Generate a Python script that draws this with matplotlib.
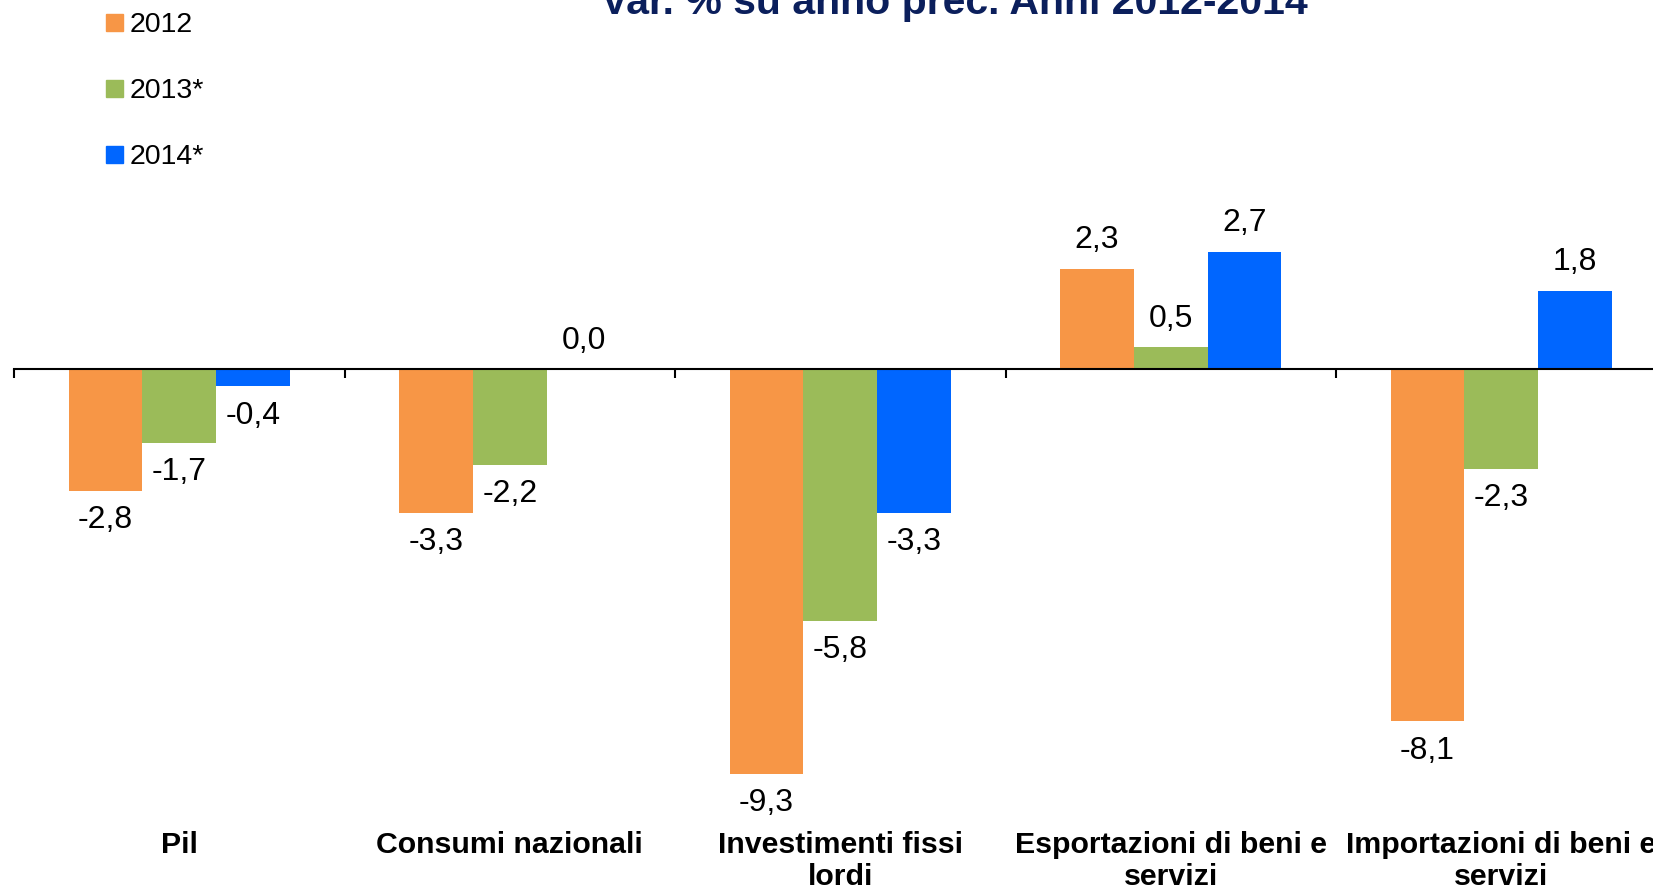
import matplotlib
matplotlib.use("Agg")
import matplotlib.pyplot as plt
from matplotlib.patches import Rectangle

plt.rcParams['font.family'] = ['Liberation Sans', 'DejaVu Sans']

categories = ["Pil", "Consumi nazionali", "Investimenti fissi\nlordi",
              "Esportazioni di beni e\nservizi", "Importazioni di beni e\nservizi"]
series_names = ["2012", "2013*", "2014*"]
v2012 = [-2.8, -3.3, -9.3, 2.3, -8.1]
v2013 = [-1.7, -2.2, -5.8, 0.5, -2.3]
v2014 = [-0.4, 0.0, -3.3, 2.7, 1.8]
colors = ["#F79646", "#9BBB59", "#0066FF"]
title = "Var. % su anno prec. Anni 2012-2014"

W, H = 1653, 888
fig = plt.figure(figsize=(W / 100, H / 100), dpi=100)
fig.patch.set_facecolor("white")

px_per_unit = 43.5
zero_y = 369.0
ymin, ymax = -10.5, 4.0
ax_top = zero_y - ymax * px_per_unit
ax_bot = zero_y - ymin * px_per_unit
left_px = 14.0
cat_px = 330.5
ax = fig.add_axes([left_px / W, (H - ax_bot) / H, 5 * cat_px / W, (ax_bot - ax_top) / H])
ax.set_xlim(-0.5, 4.5)
ax.set_ylim(ymin, ymax)

bw = 0.2233
x = list(range(len(categories)))
for k, vals in enumerate([v2012, v2013, v2014]):
    pos = [i + (k - 1) * bw for i in x]
    ax.bar(pos, vals, width=bw, color=colors[k], linewidth=0, zorder=2)
    for p, v in zip(pos, vals):
        off = 20.5 if v >= 0 else -21
        ax.annotate(f"{v:.1f}".replace(".", ","), (p, v), xytext=(0, off),
                    textcoords="offset points", ha="center", va="center",
                    fontsize=23, color="black")

for s in ["left", "right", "top"]:
    ax.spines[s].set_visible(False)
ax.spines["bottom"].set_position(("data", 0))
ax.spines["bottom"].set_linewidth(1.5)
ax.spines["bottom"].set_zorder(3)
ax.set_yticks([])
ax.set_xticks([i - 0.5 for i in range(6)])
ax.set_xticklabels([])
ax.tick_params(axis="x", direction="out", length=6.5, width=1.5, color="black")

for i, c in enumerate(categories):
    nlines = c.count("\n") + 1
    base = 853 + 32 * (nlines - 1)
    ax.annotate(c, (i, H - base), xycoords=("data", "figure pixels"),
                ha="center", va="baseline", fontsize=21.8, fontweight="bold",
                linespacing=1.2, annotation_clip=False)

fig.text(954 / W, (H - 14) / H, title, ha="center", va="baseline",
         fontsize=29.5, fontweight="bold", color="#0B1F5C")

leg_y = [23, 89, 155]
for name, col, yy in zip(series_names, colors, leg_y):
    fig.patches.append(Rectangle(((106) / W, (H - yy - 8.5) / H), 17 / W, 17 / H,
                                 transform=fig.transFigure, color=col, figure=fig))
    fig.text(130 / W, (H - yy - 2) / H, name, ha="left", va="center", fontsize=20.5)

fig.savefig("out.png", dpi=100)
